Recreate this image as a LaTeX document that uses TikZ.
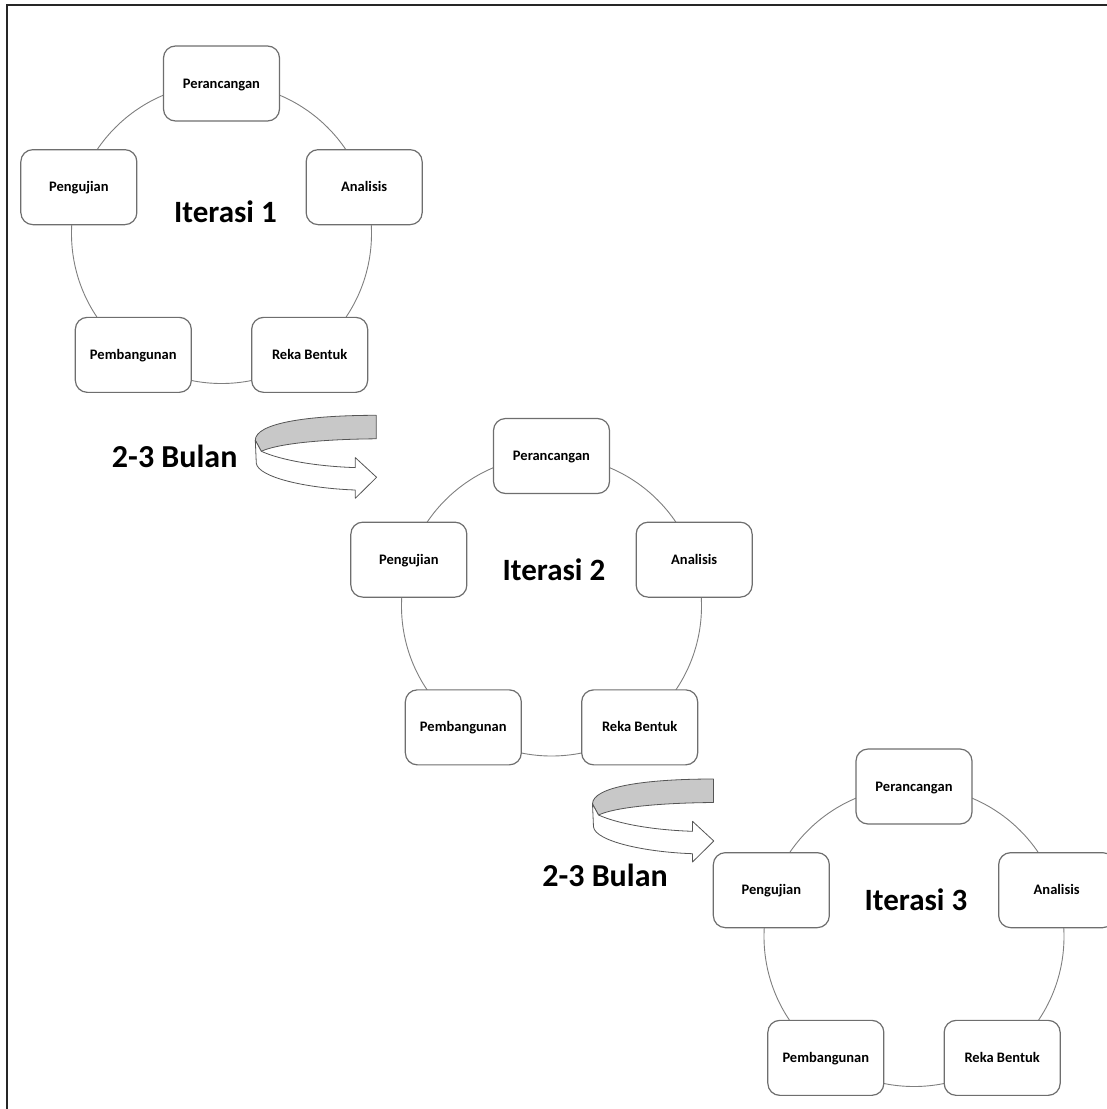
\documentclass[tikz,border=0pt]{standalone}
\usepackage{fontspec}
\setmainfont{Carlito}

\definecolor{boxline}{HTML}{6E6E6E}
\definecolor{ringline}{HTML}{7F7F7F}
\definecolor{ribbongray}{HTML}{C8C8C8}
\definecolor{ribbonline}{HTML}{555555}

\tikzset{
    stage/.style={draw=boxline, line width=1.2pt, fill=white, rounded corners=12pt,
        minimum width=116pt, minimum height=75pt, inner sep=0pt,
        font=\fontsize{14.5}{16}\selectfont\bfseries, text height=9.2pt, text depth=0pt},
    ring/.style={draw=ringline, line width=0.9pt},
    iter/.style={inner sep=0pt, font=\fontsize{31}{36}\selectfont\bfseries,
        text height=19.6pt, text depth=0pt},
    bulan/.style={inner sep=0pt, font=\fontsize{32}{38}\selectfont\bfseries,
        text height=20.3pt, text depth=0pt},
    ribbon/.style={draw=ribbonline, line width=0.8pt, line join=round},
    bulan arrow/.pic={
        % back of the band
        \draw[ribbon, fill=ribbongray] (0,0) .. controls (-70,0) and (-121,-8) .. (-121,-25)
            -- (-115,-36) .. controls (-100,-29) and (-60,-24) .. (0,-23.5) -- cycle;
        % front of the band with the head
        \draw[ribbon, fill=white] (-121,-25) -- (-115,-36)
            .. controls (-95,-45) and (-60,-51) .. (-21,-52.3)
            -- (-21,-42.3) -- (0.3,-62) -- (-21,-83) -- (-21,-74.7)
            .. controls (-70,-73) and (-118,-62) .. (-120,-48) -- cycle;
    }
}

\begin{document}
\begin{tikzpicture}[x=1pt, y=1pt]
    \useasboundingbox (0,0) rectangle (1107,-1109);
    \clip (0,0) rectangle (1107,-1109);
    \draw[line width=1.8pt, black!85] (7.3,-1109) -- (7.3,-5) -- (1107,-5);

    \coordinate (c1) at (221.5,-233.5);
    \coordinate (c2) at (551.5,-606);
    \coordinate (c3) at (914,-936.5);

    % Iterasi 1
    \draw[ring] (c1) circle[radius=150];
    \node[stage] (per1) at ([shift={(90:150)}]c1) {Perancangan};
    \node[stage] (ana1) at ([shift={(18:150)}]c1) {Analisis};
    \node[stage] (rek1) at ([shift={(-54:150)}]c1) {Reka Bentuk};
    \node[stage] (pem1) at ([shift={(-126:150)}]c1) {Pembangunan};
    \node[stage] (pen1) at ([shift={(162:150)}]c1) {Pengujian};
    \node[iter] (it1) at ([shift={(4,21)}]c1) {Iterasi 1};

    % Iterasi 2
    \draw[ring] (c2) circle[radius=150];
    \node[stage] (per2) at ([shift={(90:150)}]c2) {Perancangan};
    \node[stage] (ana2) at ([shift={(18:150)}]c2) {Analisis};
    \node[stage] (rek2) at ([shift={(-54:150)}]c2) {Reka Bentuk};
    \node[stage] (pem2) at ([shift={(-126:150)}]c2) {Pembangunan};
    \node[stage] (pen2) at ([shift={(162:150)}]c2) {Pengujian};
    \node[iter] (it2) at ([shift={(2.5,35)}]c2) {Iterasi 2};

    % Iterasi 3
    \draw[ring] (c3) circle[radius=150];
    \node[stage] (per3) at ([shift={(90:150)}]c3) {Perancangan};
    \node[stage] (ana3) at ([shift={(18:150)}]c3) {Analisis};
    \node[stage] (rek3) at ([shift={(-54:150)}]c3) {Reka Bentuk};
    \node[stage] (pem3) at ([shift={(-126:150)}]c3) {Pembangunan};
    \node[stage] (pen3) at ([shift={(162:150)}]c3) {Pengujian};
    \node[iter] (it3) at ([shift={(2,35.5)}]c3) {Iterasi 3};

    % 2-3 Bulan
    \node[bulan] (bl1) at (174.7,-457.3) {2-3 Bulan};
    \pic at (376.3,-415.3) {bulan arrow};
    \node[bulan] (bl2) at (605,-876.5) {2-3 Bulan};
    \pic at (713.5,-779) {bulan arrow};
\end{tikzpicture}
\end{document}
